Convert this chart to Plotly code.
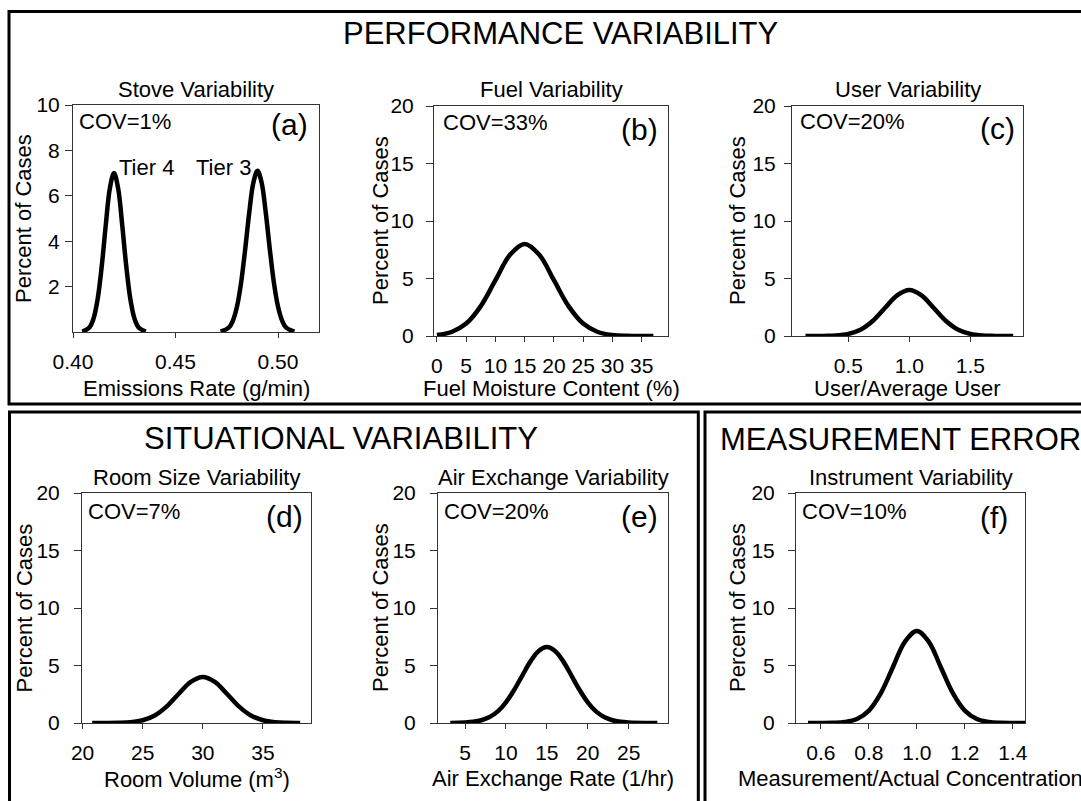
import plotly.graph_objects as go

W, H = 1081, 801
FONT = "Liberation Sans, Arial, sans-serif"

# ---------------- data ----------------
tier4_x = [0.4045, 0.408, 0.410, 0.412, 0.414, 0.416, 0.418, 0.420, 0.422, 0.424, 0.426, 0.428, 0.430, 0.432, 0.4355]
tier4_y = [0.02, 0.20, 0.59, 1.44, 2.88, 4.72, 6.34, 7.0, 6.34, 4.72, 2.88, 1.44, 0.59, 0.20, 0.02]

tier3_x = [0.472, 0.476, 0.478, 0.480, 0.482, 0.484, 0.486, 0.488, 0.490, 0.492, 0.494, 0.496, 0.498, 0.500, 0.502, 0.504, 0.508]
tier3_y = [0.02, 0.19, 0.50, 1.12, 2.17, 3.65, 5.28, 6.59, 7.1, 6.59, 5.28, 3.65, 2.17, 1.12, 0.50, 0.19, 0.02]

fuel_x = [0, 2.5, 5, 7.5, 10, 12.5, 15, 17.5, 20, 22.5, 25, 27.5, 30, 32.5, 35, 37]
fuel_y = [0.09, 0.35, 1.08, 2.6, 4.85, 7.06, 8.0, 7.06, 4.85, 2.6, 1.08, 0.35, 0.09, 0.02, 0.0, 0.0]

user_x = [0.15, 0.3, 0.4, 0.5, 0.6, 0.7, 0.8, 0.9, 1.0, 1.1, 1.2, 1.3, 1.4, 1.5, 1.6, 1.7, 1.85]
user_y = [0, 0.01, 0.04, 0.18, 0.54, 1.30, 2.43, 3.53, 4.0, 3.53, 2.43, 1.30, 0.54, 0.18, 0.04, 0.01, 0]

room_x = [20.8, 22, 23, 24, 25, 26, 27, 28, 29, 30, 31, 32, 33, 34, 35, 36, 37, 38.1]
room_y = [0, 0, 0.015, 0.07, 0.24, 0.65, 1.44, 2.54, 3.57, 4.0, 3.57, 2.54, 1.44, 0.65, 0.24, 0.07, 0.015, 0]

air_x = [3.2, 5, 6, 7, 8, 9, 10, 11, 12, 13, 14, 15, 16, 17, 18, 19, 20, 21, 22, 23, 24, 25, 27, 28.5]
air_y = [0, 0.04, 0.10, 0.24, 0.52, 1.01, 1.80, 2.87, 4.13, 5.36, 6.26, 6.6, 6.26, 5.36, 4.13, 2.87, 1.80, 1.01, 0.52, 0.24, 0.10, 0.04, 0, 0]

instr_x = [0.546, 0.6, 0.65, 0.7, 0.75, 0.8, 0.85, 0.9, 0.95, 1.0, 1.05, 1.1, 1.15, 1.2, 1.25, 1.3, 1.35, 1.4, 1.455]
instr_y = [0, 0.003, 0.017, 0.09, 0.35, 1.08, 2.6, 4.85, 7.06, 8.0, 7.06, 4.85, 2.6, 1.08, 0.35, 0.09, 0.017, 0.003, 0]

panel_titles = ["Stove Variability", "Fuel Variability", "User Variability",
                "Room Size Variability", "Air Exchange Variability", "Instrument Variability"]
x_titles = ["Emissions Rate (g/min)", "Fuel Moisture Content (%)", "User/Average User",
            "Room Volume (m<sup>3</sup>)", "Air Exchange Rate (1/hr)", "Measurement/Actual Concentration"]
cov_labels = ["COV=1%", "COV=33%", "COV=20%", "COV=7%", "COV=20%", "COV=10%"]
panel_letters = ["(a)", "(b)", "(c)", "(d)", "(e)", "(f)"]
section_titles = ["PERFORMANCE VARIABILITY", "SITUATIONAL VARIABILITY", "MEASUREMENT ERROR"]
tier_labels = ["Tier 4", "Tier 3"]

xtick_vals = [
    [0.40, 0.45, 0.50],
    [0, 5, 10, 15, 20, 25, 30, 35],
    [0.5, 1.0, 1.5],
    [20, 25, 30, 35],
    [5, 10, 15, 20, 25],
    [0.6, 0.8, 1.0, 1.2, 1.4],
]
xtick_text = [
    ["0.40", "0.45", "0.50"],
    ["0", "5", "10", "15", "20", "25", "30", "35"],
    ["0.5", "1.0", "1.5"],
    ["20", "25", "30", "35"],
    ["5", "10", "15", "20", "25"],
    ["0.6", "0.8", "1.0", "1.2", "1.4"],
]
ytick_vals_a = [2, 4, 6, 8, 10]
ytick_vals = [0, 5, 10, 15, 20]

# ---------------- layout geometry (pixels) ----------------
# (left, right, top, bottom) of each plot frame
boxes = [
    (73, 319, 105, 332),
    (434, 668, 106, 336),
    (792, 1023, 106, 336),
    (82, 311, 493, 723),
    (438, 668, 493, 723),
    (796, 1025, 493, 723),
]
x_ranges = [[0.40, 0.52], [-0.5, 39.5], [0.04, 1.93], [19.95, 39.0], [1.7, 29.8], [0.496, 1.451]]
y_ranges = [[0, 10], [0, 20], [0, 20], [0, 20], [0, 20], [0, 20]]
y_standoff = [1, 8, 4, 10, 10, 9]


def fx(px):
    return px / W


def fy(py):
    return 1 - py / H


fig = go.Figure()

series = [
    (tier4_x, tier4_y, 0), (tier3_x, tier3_y, 0),
    (fuel_x, fuel_y, 1), (user_x, user_y, 2),
    (room_x, room_y, 3), (air_x, air_y, 4), (instr_x, instr_y, 5),
]
for xs, ys, i in series:
    suffix = "" if i == 0 else str(i + 1)
    fig.add_trace(go.Scatter(
        x=xs, y=ys, mode="lines",
        line=dict(color="black", width=4.5, shape="spline", smoothing=1.0),
        xaxis="x" + suffix, yaxis="y" + suffix, showlegend=False, hoverinfo="skip",
        cliponaxis=True,
    ))

layout = dict(
    width=W, height=H,
    margin=dict(l=0, r=0, t=0, b=0, pad=0, autoexpand=False),
    paper_bgcolor="white", plot_bgcolor="white",
    font=dict(family=FONT, color="black", size=21),
    showlegend=False,
)

annotations = []
for i, (l, r, t, b) in enumerate(boxes):
    suffix = "" if i == 0 else str(i + 1)
    common_axis = dict(showline=True, linecolor="#333", linewidth=1, mirror=True,
                       showgrid=False, zeroline=False, ticks="outside",
                       tickcolor="#333", tickwidth=1, automargin=False,
                       tickfont=dict(family=FONT, size=21, color="black"),
                       fixedrange=True)
    layout["xaxis" + suffix] = dict(
        common_axis, domain=[fx(l), fx(r)], range=x_ranges[i],
        anchor="y" + suffix, tickmode="array", tickvals=xtick_vals[i],
        ticktext=xtick_text[i], ticklen=5, ticklabelstandoff=6,
    )
    layout["yaxis" + suffix] = dict(
        common_axis, domain=[fy(b), fy(t)], range=y_ranges[i],
        anchor="x" + suffix, tickmode="array",
        tickvals=ytick_vals_a if i == 0 else ytick_vals,
        ticklen=7, ticklabelstandoff=y_standoff[i],
    )
    cx = (l + r) / 2
    cy = (t + b) / 2
    title_y = 89.5 if i < 3 else 477
    xt_y = 388 if i < 3 else 778
    # panel title
    annotations.append(dict(text=panel_titles[i], x=fx(cx), y=fy(title_y), xref="paper", yref="paper",
                            xanchor="center", yanchor="middle", showarrow=False,
                            font=dict(size=22)))
    # x axis title
    annotations.append(dict(text=x_titles[i], x=fx(cx), y=fy(xt_y), xref="paper", yref="paper",
                            xanchor="center", yanchor="middle", showarrow=False,
                            font=dict(size=22)))
    # y axis title
    yt_x = [23.5, 380, 737, 23.5, 380, 737][i]
    annotations.append(dict(text="Percent of Cases", x=fx(yt_x), y=fy(cy), xref="paper", yref="paper",
                            xanchor="center", yanchor="middle", showarrow=False, textangle=-90,
                            font=dict(size=22)))
    # COV label
    cov_left = [76.5, 441, 798, 86, 441.5, 800][i]
    cov_y = [121, 122.5, 121, 511, 511, 511][i]
    annotations.append(dict(text=cov_labels[i], x=fx(cov_left), y=fy(cov_y), xref="paper", yref="paper",
                            xanchor="left", yanchor="middle", showarrow=False,
                            font=dict(size=22)))
    # panel letter
    let_right = [310, 660, 1017, 305, 660, 1010][i]
    let_y = [125, 130, 128.5, 516, 516, 517][i]
    annotations.append(dict(text=panel_letters[i], x=fx(let_right), y=fy(let_y), xref="paper", yref="paper",
                            xanchor="right", yanchor="middle", showarrow=False,
                            font=dict(size=30)))

# Tier labels inside panel (a)
annotations.append(dict(text=tier_labels[0], x=0.4359, y=7.25, xref="x", yref="y",
                        xanchor="center", yanchor="middle", showarrow=False, font=dict(size=22)))
annotations.append(dict(text=tier_labels[1], x=0.4734, y=7.25, xref="x", yref="y",
                        xanchor="center", yanchor="middle", showarrow=False, font=dict(size=22)))

# Section titles
annotations.append(dict(text=section_titles[0], x=fx(560), y=fy(34), xref="paper", yref="paper",
                        xanchor="center", yanchor="middle", showarrow=False, font=dict(size=31)))
annotations.append(dict(text=section_titles[1], x=fx(341), y=fy(438), xref="paper", yref="paper",
                        xanchor="center", yanchor="middle", showarrow=False, font=dict(size=31)))
annotations.append(dict(text=section_titles[2], x=fx(718), y=fy(439), xref="paper", yref="paper",
                        xanchor="left", yanchor="middle", showarrow=False, font=dict(size=31)))

layout["annotations"] = annotations

# Section frames
shapes = [
    dict(type="rect", xref="paper", yref="paper", x0=fx(9), x1=fx(1100), y0=fy(404), y1=fy(11.5),
         line=dict(color="black", width=3), fillcolor="rgba(0,0,0,0)"),
    dict(type="rect", xref="paper", yref="paper", x0=fx(9.5), x1=fx(698.3), y0=fy(830), y1=fy(412),
         line=dict(color="black", width=3), fillcolor="rgba(0,0,0,0)"),
    dict(type="rect", xref="paper", yref="paper", x0=fx(705), x1=fx(1100), y0=fy(830), y1=fy(412),
         line=dict(color="black", width=3), fillcolor="rgba(0,0,0,0)"),
]
layout["shapes"] = shapes

fig.update_layout(layout)
fig.write_html("out.html", config={"displayModeBar": False})
